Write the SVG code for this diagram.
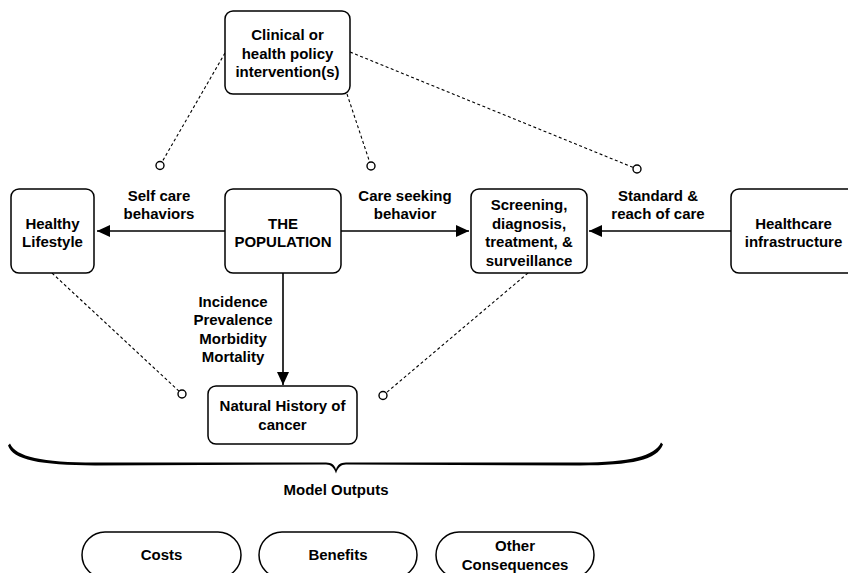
<svg xmlns="http://www.w3.org/2000/svg" width="848" height="573" viewBox="0 0 848 573">
<defs>
<style>
.box{fill:#fff;stroke:#000;stroke-width:1.5}
.t{font-family:"Liberation Sans",Arial,sans-serif;font-weight:bold;font-size:15px;fill:#000;text-anchor:middle}
.arr{fill:none;stroke:#000;stroke-width:1.6}
.dash{fill:none;stroke:#000;stroke-width:1.1;stroke-dasharray:3,2.5}
.dot{fill:#fff;stroke:#000;stroke-width:1.4}
</style>
<marker id="ah" markerUnits="userSpaceOnUse" markerWidth="14" markerHeight="12" refX="13" refY="6" orient="auto">
<path d="M0,0 L13,6 L0,12 Z" fill="#000"/>
</marker>
</defs>
<rect width="848" height="573" fill="#fff"/>

<g id="connectors">
<line class="arr" x1="225" y1="231" x2="97" y2="231" marker-end="url(#ah)"/>
<line class="arr" x1="341" y1="231" x2="469" y2="231" marker-end="url(#ah)"/>
<line class="arr" x1="731" y1="231" x2="589" y2="231" marker-end="url(#ah)"/>
<line class="arr" x1="283" y1="273" x2="283" y2="385" marker-end="url(#ah)"/>
<line class="dash" x1="225" y1="53" x2="160" y2="165.5"/>
<line class="dash" x1="347" y1="94" x2="371" y2="166"/>
<line class="dash" x1="350" y1="52" x2="637" y2="169"/>
<line class="dash" x1="52" y1="273" x2="182" y2="394"/>
<line class="dash" x1="528" y1="273" x2="383" y2="395.5"/>
<circle class="dot" cx="160" cy="165.5" r="4"/>
<circle class="dot" cx="371" cy="166" r="4"/>
<circle class="dot" cx="637" cy="169" r="4"/>
<circle class="dot" cx="182" cy="394" r="4"/>
<circle class="dot" cx="383" cy="395.5" r="4"/>
<text class="t" x="159" y="201">Self care</text>
<text class="t" x="159" y="219">behaviors</text>
<text class="t" x="405" y="201">Care seeking</text>
<text class="t" x="405" y="219">behavior</text>
<text class="t" x="658" y="201">Standard &amp;</text>
<text class="t" x="658" y="219">reach of care</text>
<text class="t" x="233" y="306.5">Incidence</text>
<text class="t" x="233" y="325">Prevalence</text>
<text class="t" x="233" y="343.5">Morbidity</text>
<text class="t" x="233" y="362">Mortality</text>
</g>

<g id="intervention">
<rect class="box" x="225" y="11" width="125" height="83" rx="8"/>
<text class="t" x="287.5" y="40">Clinical or</text>
<text class="t" x="287.5" y="58.5">health policy</text>
<text class="t" x="287.5" y="77">intervention(s)</text>
</g>

<g id="lifestyle">
<rect class="box" x="11" y="189" width="83" height="84" rx="8"/>
<text class="t" x="52.5" y="228.5">Healthy</text>
<text class="t" x="52.5" y="247">Lifestyle</text>
</g>

<g id="population">
<rect class="box" x="225" y="189" width="116" height="84" rx="8"/>
<text class="t" x="283" y="228.5">THE</text>
<text class="t" x="283" y="247">POPULATION</text>
</g>

<g id="screening">
<rect class="box" x="471" y="189" width="116" height="84" rx="8"/>
<text class="t" x="529" y="210">Screening,</text>
<text class="t" x="529" y="228.5">diagnosis,</text>
<text class="t" x="529" y="247">treatment, &amp;</text>
<text class="t" x="529" y="265.5">surveillance</text>
</g>

<g id="infrastructure">
<rect class="box" x="731" y="189" width="125" height="84" rx="8"/>
<text class="t" x="793.5" y="228.5">Healthcare</text>
<text class="t" x="793.5" y="247">infrastructure</text>
</g>

<g id="natural-history">
<rect class="box" x="208" y="386" width="149" height="58" rx="8"/>
<text class="t" x="282.5" y="411">Natural History of</text>
<text class="t" x="282.5" y="429.5">cancer</text>
</g>

<g id="model-outputs">
<path d="M10,443.5 C16,457 42,462.3 95,462.6 L326,462.6 C332,462.7 334.5,465 336,469.5 C337.5,465 340,462.7 346,462.6 L580,462.6 C630,462.3 655,456 661,442.5 L663,444.5 C657,460 632,465.4 580,465.4 L346,464.6 C341,464.7 338,467.5 336,473.5 C334,467.5 331,464.7 326,464.6 L95,465.4 C40,465.2 13,460 8,445.5 Z" fill="#000"/>
<text class="t" x="336" y="495">Model Outputs</text>
</g>

<g id="costs">
<rect class="box" x="82" y="532" width="159" height="46" rx="23"/>
<text class="t" x="161.5" y="560">Costs</text>
</g>

<g id="benefits">
<rect class="box" x="259" y="532" width="158" height="46" rx="23"/>
<text class="t" x="338" y="560">Benefits</text>
</g>

<g id="other">
<rect class="box" x="436" y="532" width="158" height="46" rx="23"/>
<text class="t" x="515" y="551">Other</text>
<text class="t" x="515" y="569.5">Consequences</text>
</g>
</svg>
